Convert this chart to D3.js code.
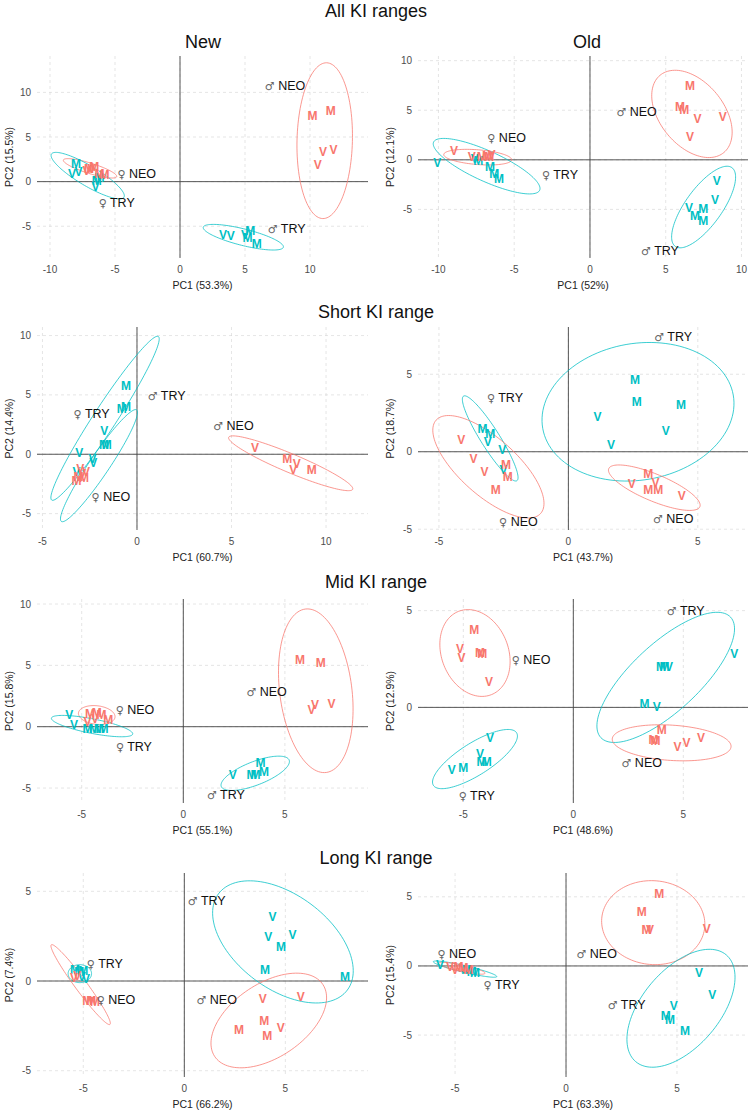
<!DOCTYPE html>
<html>
<head>
<meta charset="utf-8">
<script src="https://cdn.jsdelivr.net/npm/d3@7"></script>
<style>
  body { margin: 0; background: #fff; }
  text { font-family: "Liberation Sans", Arial, sans-serif; }
</style>
</head>
<body>
<svg id="chart" width="751" height="1110"></svg>
<script>
// Titles and axis percentages
var rowTitles = ["All KI ranges", "Short KI range", "Mid KI range", "Long KI range"];
var colTitles = ["New", "Old"];
var pc1Pct = ["53.3%", "52%", "60.7%", "43.7%", "55.1%", "48.6%", "66.2%", "63.3%"];
var pc2Pct = ["15.5%", "12.1%", "14.4%", "18.7%", "15.8%", "12.9%", "7.4%", "15.4%"];
var tickValues = [-10, -5, 0, 5, 10];

// Axis ranges for each panel [min, max]
var xDomains = [[-11.0, 14.46], [-11.35, 10.43], [-5.29, 12.22], [-5.81, 6.94],
                [-7.2, 9.09], [-7.06, 7.94], [-7.29, 9.09], [-6.67, 8.2]];
var yDomains = [[-8.56, 14.08], [-9.9, 10.47], [-6.38, 10.72], [-5.05, 8.05],
                [-6.22, 10.41], [-4.94, 5.6], [-5.35, 6.02], [-8.03, 6.72]];

// Individuals: [group, letter, PC1, PC2]
var newPoints = [
  ["TRY","V",3.3,-6.0],["TRY","V",3.9,-6.1],["TRY","M",5.4,-5.5],["TRY","M",5.2,-6.3],["TRY","M",5.9,-6.9],["TRY","V",5.0,-6.0],
  ["TRY","M",-8.0,2.0],["TRY","V",-8.3,0.9],["TRY","V",-7.8,1.1],["TRY","M",-6.4,0.1],["TRY","V",-6.5,-0.6],["TRY","M",-6.2,0.45],
  ["NEO","M",10.2,7.35],["NEO","M",11.6,7.95],["NEO","V",11.0,3.36],["NEO","V",11.8,3.6],["NEO","V",10.6,1.87],
  ["NEO","M",-7.0,1.5],["NEO","M",-6.6,1.7],["NEO","M",-6.2,0.9],["NEO","M",-5.8,0.75],["NEO","V",-7.2,1.25],["NEO","V",-6.8,1.45]
];
var oldPoints = [
  ["TRY","V",8.36,-2.09],["TRY","V",8.25,-4.05],["TRY","V",6.53,-4.8],["TRY","M",7.48,-4.97],["TRY","M",6.93,-5.64],["TRY","M",7.48,-6.15],
  ["TRY","V",-10.08,-0.24],["TRY","M",-7.37,-0.1],["TRY","M",-6.6,-0.74],["TRY","M",-6.0,-1.93],["TRY","M",-6.31,-1.42],["TRY","V",-7.6,0.1],
  ["NEO","M",6.6,7.43],["NEO","M",5.94,5.4],["NEO","M",6.23,5.07],["NEO","V",7.1,4.16],["NEO","V",8.76,4.32],["NEO","V",6.6,2.36],
  ["NEO","V",-8.98,0.95],["NEO","V",-7.81,0.27],["NEO","M",-7.15,0.3],["NEO","M",-6.8,0.4],["NEO","V",-6.5,0.55],["NEO","M",-6.65,0.3]
];
var shortNewPoints = [
  ["TRY","M",-0.58,5.76],["TRY","M",-0.58,4.02],["TRY","M",-0.81,3.88],["TRY","V",-1.73,1.99],["TRY","M",-1.75,0.79],["TRY","M",-1.6,0.79],
  ["TRY","V",-3.05,0.14],["TRY","V",-2.35,-0.34],["TRY","V",-2.31,-0.7],["TRY","V",-3.2,-1.5],
  ["NEO","V",6.24,0.59],["NEO","M",7.95,-0.34],["NEO","V",8.45,-0.81],["NEO","V",8.27,-1.32],["NEO","M",9.24,-1.26],
  ["NEO","V",-3.0,-1.2],["NEO","M",-3.1,-1.9],["NEO","M",-2.8,-2.0],["NEO","V",-2.9,-1.6],["NEO","M",-3.2,-2.2],["NEO","V",-2.7,-1.5]
];
var shortOldPoints = [
  ["TRY","M",2.57,4.62],["TRY","M",2.64,3.23],["TRY","M",4.35,3.01],["TRY","V",1.13,2.26],["TRY","V",3.76,1.35],["TRY","V",1.65,0.47],
  ["TRY","M",-3.32,1.51],["TRY","M",-3.02,1.18],["TRY","V",-3.11,0.65],["TRY","V",-2.55,0.15],["TRY","V",-2.51,-1.14],
  ["NEO","M",3.09,-1.4],["NEO","V",2.45,-2.04],["NEO","V",3.37,-2.0],["NEO","M",3.09,-2.47],["NEO","M",3.47,-2.43],["NEO","V",4.38,-2.86],
  ["NEO","V",-4.14,0.8],["NEO","V",-3.67,-0.43],["NEO","V",-3.24,-1.31],["NEO","M",-2.41,-0.86],["NEO","M",-2.34,-1.61],["NEO","M",-2.81,-2.47]
];
var midNewPoints = [
  ["TRY","V",2.43,-3.94],["TRY","M",3.36,-3.94],["TRY","M",3.55,-3.9],["TRY","M",3.8,-2.9],["TRY","M",3.97,-3.67],
  ["TRY","V",-5.61,0.95],["TRY","V",-5.38,0.14],["TRY","M",-4.72,-0.14],["TRY","M",-4.4,-0.14],["TRY","M",-4.15,-0.14],["TRY","M",-3.93,-0.14],
  ["NEO","M",5.74,5.43],["NEO","M",6.77,5.24],["NEO","V",6.31,1.36],["NEO","V",6.48,1.77],["NEO","V",7.3,1.9],
  ["NEO","M",-4.59,1.09],["NEO","M",-4.26,1.14],["NEO","M",-4.02,0.95],["NEO","M",-3.69,0.54],["NEO","V",-4.72,0.41],["NEO","V",-4.34,0.68]
];
var midOldPoints = [
  ["TRY","V",-3.79,-1.55],["TRY","V",-4.24,-2.41],["TRY","M",-4.17,-2.81],["TRY","M",-3.94,-2.81],["TRY","V",-5.53,-3.24],["TRY","M",-5.0,-3.1],
  ["TRY","V",7.32,2.76],["TRY","M",3.98,2.1],["TRY","M",4.14,2.1],["TRY","V",4.35,2.1],["TRY","M",3.23,0.21],["TRY","V",3.79,0.03],
  ["NEO","M",-4.5,4.0],["NEO","V",-5.15,3.05],["NEO","V",-5.08,2.59],["NEO","M",-4.24,2.83],["NEO","M",-4.14,2.79],["NEO","V",-3.83,1.33],
  ["NEO","M",4.02,-1.17],["NEO","M",3.64,-1.69],["NEO","M",3.74,-1.72],["NEO","V",4.74,-2.03],["NEO","V",5.15,-1.83],["NEO","V",5.8,-1.55]
];
var longNewPoints = [
  ["TRY","V",4.37,3.61],["TRY","V",4.16,2.46],["TRY","V",5.35,2.61],["TRY","M",4.79,1.9],["TRY","M",3.99,0.63],["TRY","M",7.95,0.22],
  ["TRY","M",-5.41,0.63],["TRY","M",-5.0,0.6],["TRY","V",-4.87,0.13],["TRY","V",-5.08,0.22],["TRY","M",-5.2,0.5],
  ["NEO","V",3.88,-0.99],["NEO","V",5.76,-0.86],["NEO","M",3.96,-2.23],["NEO","M",2.71,-2.72],["NEO","M",4.11,-3.04],["NEO","V",4.77,-2.61],
  ["NEO","V",-5.46,0.19],["NEO","V",-5.3,0.3],["NEO","M",-4.8,-1.08],["NEO","M",-4.42,-1.17],["NEO","M",-4.6,-1.1]
];
var longOldPoints = [
  ["TRY","V",5.99,-0.48],["TRY","V",6.59,-2.1],["TRY","V",4.86,-2.89],["TRY","M",4.49,-3.61],["TRY","M",4.68,-3.9],["TRY","M",5.36,-4.7],
  ["TRY","V",-5.68,0.07],["TRY","M",-4.25,-0.41],["TRY","M",-4.1,-0.48],["TRY","M",-4.5,-0.3],
  ["NEO","M",4.2,5.25],["NEO","M",3.41,3.93],["NEO","M",3.63,2.6],["NEO","V",3.78,2.6],["NEO","V",6.34,2.72],
  ["NEO","V",-5.23,-0.05],["NEO","M",-4.85,-0.05],["NEO","M",-4.62,-0.1],["NEO","V",-5.0,-0.29],["NEO","M",-4.4,-0.25]
];

// Confidence ellipses: [group, centre x, centre y, major end x, major end y, minor end x, minor end y]
var newEllipses = [
  ["NEO",11.13,4.59,11.28,13.32,13.26,4.51],["TRY",4.87,-6.23,7.95,-7.35,4.72,-7.13],
  ["NEO",-6.92,1.49,-4.87,0.56,-7.03,0.93],["TRY",-7.1,0.67,-4.31,-1.75,-7.49,-0.3]
];
var oldEllipses = [
  ["NEO",6.73,4.63,8.84,0.74,8.34,6.69],["TRY",7.5,-4.76,9.37,-0.79,8.48,-5.84],
  ["NEO",-7.41,0.27,-5.17,0.0,-7.45,-0.47],["TRY",-6.82,-0.64,-3.32,-3.07,-7.23,-2.03]
];
var shortNewEllipses = [
  ["NEO",8.13,-0.76,11.41,-2.95,7.94,-1.49],["TRY",-1.69,3.03,1.13,9.92,-1.18,2.5],
  ["TRY",-2.01,-0.96,-0.02,3.74,-1.57,-1.43]
];
var shortOldEllipses = [
  ["TRY",2.69,2.58,6.37,3.66,3.15,-1.76],["NEO",3.32,-2.32,5.08,-3.55,3.12,-3.12],
  ["TRY",-3.02,0.86,-1.99,-1.87,-3.33,0.54],["NEO",-3.09,-0.97,-1.07,-3.98,-2.36,0.4]
];
var midNewEllipses = [
  ["NEO",6.52,2.93,6.0,9.59,8.28,3.33],["TRY",3.54,-3.8,5.21,-2.72,3.75,-4.69],
  ["NEO",-4.26,0.95,-3.36,0.82,-4.26,1.71],["TRY",-4.49,0.05,-2.49,-0.6,-4.56,-0.53]
];
var midOldEllipses = [
  ["NEO",-4.47,2.81,-3.72,0.66,-3.06,3.45],["TRY",-4.47,-2.67,-2.58,-1.31,-4.08,-3.37],
  ["TRY",4.2,1.55,7.15,4.66,5.24,0.27],["NEO",4.47,-1.83,7.17,-2.03,4.42,-2.74]
];
var longNewEllipses = [
  ["TRY",4.88,2.18,8.07,-0.5,6.27,4.28],["NEO",4.18,-2.2,6.86,-0.2,5.18,-3.92],
  ["NEO",-5.13,-0.2,-3.68,-2.42,-4.89,-0.006],["TRY",-5.17,0.41,-4.59,0.41,-5.17,0.91]
];
var longOldEllipses = [
  ["NEO",3.93,3.13,6.25,2.81,3.77,0.11],["TRY",5.18,-3.06,7.22,0.8,6.51,-4.87],
  ["TRY",-4.55,-0.23,-3.12,-0.77,-4.59,-0.46],["NEO",-4.7,-0.17,-3.65,-0.53,-4.74,-0.4]
];

// Group labels: [sex, group, x, y]
var newLabels = [["♂","NEO",8.08,10.8],["♂","TRY",8.2,-5.22],["♀","NEO",-3.33,0.86],["♀","TRY",-4.87,-2.35]];
var oldLabels = [["♂","NEO",3.08,4.9],["♂","TRY",4.62,-9.12],["♀","NEO",-5.5,2.23],["♀","TRY",-1.98,-1.52]];
var shortNewLabels = [["♂","NEO",5.1,2.39],["♂","TRY",1.57,4.92],["♀","TRY",-2.4,3.46],["♀","NEO",-1.38,-3.57]];
var shortOldLabels = [["♂","TRY",4.05,7.42],["♂","NEO",4.05,-4.3],["♀","TRY",-2.45,3.51],["♀","NEO",-1.93,-4.52]];
var midNewLabels = [["♂","NEO",4.1,2.91],["♂","TRY",2.1,-5.52],["♀","NEO",-2.38,1.41],["♀","TRY",-2.43,-1.58]];
var midOldLabels = [["♀","NEO",-1.92,2.48],["♀","TRY",-4.39,-4.53],["♂","TRY",5.11,5.0],["♂","NEO",3.11,-2.84]];
var longNewLabels = [["♂","TRY",1.11,4.47],["♂","NEO",1.6,-1.04],["♀","TRY",-3.93,0.97],["♀","NEO",-3.38,-1.04]];
var longOldLabels = [["♀","NEO",-4.92,0.92],["♀","TRY",-2.9,-1.37],["♂","NEO",1.38,0.92],["♂","TRY",2.73,-2.82]];

var panelPoints = [newPoints, oldPoints, shortNewPoints, shortOldPoints, midNewPoints, midOldPoints, longNewPoints, longOldPoints];
var panelEllipses = [newEllipses, oldEllipses, shortNewEllipses, shortOldEllipses, midNewEllipses, midOldEllipses, longNewEllipses, longOldEllipses];
var panelLabels = [newLabels, oldLabels, shortNewLabels, shortOldLabels, midNewLabels, midOldLabels, longNewLabels, longOldLabels];

var color = d3.scaleOrdinal().domain(["NEO", "TRY"]).range(["#F8766D", "#00BFC4"]);

// Layout
var colX = [[37, 368], [418, 748]];
var rowY = [[56, 258], [327, 530], [599, 803], [873, 1077]];
var rowTitleY = [17, 318, 588, 864];

var svg = d3.select("#chart");
svg.append("rect").attr("width", 751).attr("height", 1110).attr("fill", "#fff");

// Row titles
rowTitles.forEach(function(t, r) {
  svg.append("text")
    .attr("x", 376).attr("y", rowTitleY[r])
    .attr("text-anchor", "middle")
    .attr("font-size", 18)
    .attr("fill", "#111")
    .text(t);
});

// Column titles in the first row
colTitles.forEach(function(t, c) {
  svg.append("text")
    .attr("x", c === 0 ? 203 : 587).attr("y", 48)
    .attr("text-anchor", "middle")
    .attr("font-size", 18)
    .attr("fill", "#111")
    .text(t);
});

for (var p = 0; p < 8; p++) {
  drawPanel(p);
}

function drawPanel(p) {
  var r = Math.floor(p / 2), c = p % 2;
  var x0 = colX[c][0], x1 = colX[c][1], y0 = rowY[r][0], y1 = rowY[r][1];

  var x = d3.scaleLinear().domain(xDomains[p]).range([x0, x1]);
  var y = d3.scaleLinear().domain(yDomains[p]).range([y1, y0]);

  var g = svg.append("g");

  var xt = tickValues.filter(function(v) { return v >= xDomains[p][0] && v <= xDomains[p][1]; });
  var yt = tickValues.filter(function(v) { return v >= yDomains[p][0] && v <= yDomains[p][1]; });

  // Grid
  g.selectAll(".gx").data(xt).enter().append("line")
    .attr("x1", function(d) { return x(d); }).attr("x2", function(d) { return x(d); })
    .attr("y1", y0).attr("y2", y1)
    .attr("stroke", "#d4d4d4").attr("stroke-width", 0.6).attr("stroke-dasharray", "3,3");
  g.selectAll(".gy").data(yt).enter().append("line")
    .attr("y1", function(d) { return y(d); }).attr("y2", function(d) { return y(d); })
    .attr("x1", x0).attr("x2", x1)
    .attr("stroke", "#d4d4d4").attr("stroke-width", 0.6).attr("stroke-dasharray", "3,3");

  // Zero lines
  g.append("line").attr("x1", x(0)).attr("x2", x(0)).attr("y1", y0).attr("y2", y1)
    .attr("stroke", "#444").attr("stroke-width", 0.9);
  g.append("line").attr("x1", x0).attr("x2", x1).attr("y1", y(0)).attr("y2", y(0))
    .attr("stroke", "#444").attr("stroke-width", 0.9);

  // Tick labels
  g.selectAll(".tx").data(xt).enter().append("text")
    .attr("x", function(d) { return x(d); }).attr("y", y1 + 15)
    .attr("text-anchor", "middle").attr("font-size", 10).attr("fill", "#4d4d4d")
    .text(function(d) { return d; });
  g.selectAll(".ty").data(yt).enter().append("text")
    .attr("x", x0 - 6).attr("y", function(d) { return y(d) + 3.5; })
    .attr("text-anchor", "end").attr("font-size", 10).attr("fill", "#4d4d4d")
    .text(function(d) { return d; });

  // Axis titles
  g.append("text")
    .attr("x", (x0 + x1) / 2).attr("y", y1 + 31)
    .attr("text-anchor", "middle").attr("font-size", 10.5).attr("fill", "#222")
    .text("PC1 (" + pc1Pct[p] + ")");
  g.append("text")
    .attr("transform", "translate(" + (x0 - 24) + "," + ((y0 + y1) / 2) + ") rotate(-90)")
    .attr("text-anchor", "middle").attr("font-size", 10.5).attr("fill", "#222")
    .text("PC2 (" + pc2Pct[p] + ")");

  // Ellipses
  var line = d3.line()
    .x(function(d) { return x(d[0]); })
    .y(function(d) { return y(d[1]); })
    .curve(d3.curveLinearClosed);
  var ts = d3.range(0, 2 * Math.PI, Math.PI / 60);
  panelEllipses[p].forEach(function(e) {
    var pts = ts.map(function(t) {
      var ct = Math.cos(t), st = Math.sin(t);
      return [e[1] + ct * (e[3] - e[1]) + st * (e[5] - e[1]),
              e[2] + ct * (e[4] - e[2]) + st * (e[6] - e[2])];
    });
    g.append("path")
      .attr("d", line(pts))
      .attr("fill", "none")
      .attr("stroke", color(e[0]))
      .attr("stroke-opacity", 0.85)
      .attr("stroke-width", 0.9);
  });

  // Points drawn as letters
  g.selectAll(".pt").data(panelPoints[p]).enter().append("text")
    .attr("x", function(d) { return x(d[2]); })
    .attr("y", function(d) { return y(d[3]); })
    .attr("dy", "0.36em")
    .attr("text-anchor", "middle")
    .attr("font-size", 12).attr("font-weight", "bold")
    .attr("fill", function(d) { return color(d[0]); })
    .text(function(d) { return d[1]; });

  // Group labels
  var lab = g.selectAll(".lab").data(panelLabels[p]).enter().append("text")
    .attr("x", function(d) { return x(d[2]); })
    .attr("y", function(d) { return y(d[3]); })
    .attr("dy", "0.36em")
    .attr("text-anchor", "middle")
    .attr("font-size", 12.5).attr("fill", "#111");
  lab.append("tspan")
    .attr("font-family", "DejaVu Sans")
    .attr("font-size", 11)
    .attr("fill", "#666")
    .text(function(d) { return d[0]; });
  lab.append("tspan").text(function(d) { return " " + d[1]; });
}
</script>
</body>
</html>
